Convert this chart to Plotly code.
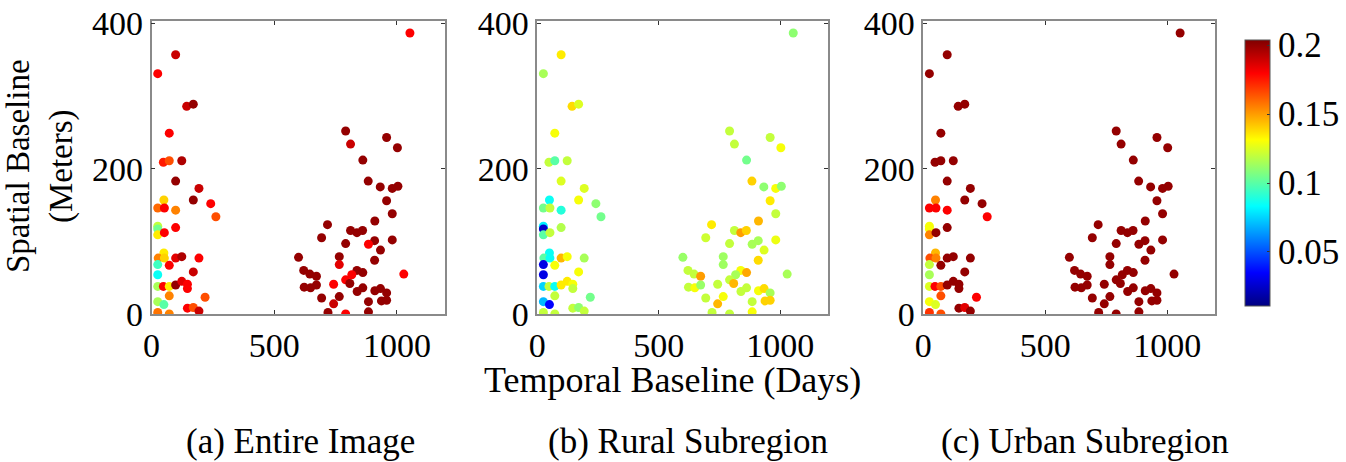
import plotly.graph_objects as go

# Temporal baseline (days) and spatial baseline (meters) of interferometric pairs
temporal_days = [1053, 791, 811, 958, 1002, 861, 883, 932, 981, 1004, 958, 981, 910, 717, 811, 837, 860, 693,
                 791, 909, 884, 981, 933, 599, 765, 765, 909, 620, 645, 672, 837, 861, 816, 791, 622, 648,
                 672, 742, 808, 838, 861, 910, 933, 958, 937, 958, 884, 693, 742, 765, 719, 791, 884, 1028,
                 98, 25, 143, 170, 72, 48, 72, 123, 98, 193, 170, 241, 262, 50, 25, 52, 98, 25, 25, 25,
                 52, 98, 50, 27, 52, 25, 72, 98, 123, 193, 170, 25, 25, 48, 72, 98, 123, 146, 146, 72,
                 218, 25, 50, 25, 72, 146, 170, 193]
spatial_m = [387, 252, 234, 243, 229, 212, 183, 175, 173, 176, 156, 138, 128, 123, 115, 112, 115, 105,
             97, 101, 96, 102, 88, 78, 79, 68, 74, 60, 55, 52, 60, 57, 54, 47, 37, 36,
             40, 41, 42, 31, 36, 32, 35, 29, 18, 19, 17, 22, 14, 24, 2, 0, 3, 55,
             357, 331, 286, 289, 249, 209, 211, 211, 183, 173, 157, 152, 134, 157, 146, 146, 143, 121, 117, 109,
             112, 119, 84, 77, 77, 68, 67, 77, 79, 77, 58, 54, 38, 38, 38, 40, 45, 41, 35, 25,
             23, 17, 13, 2, 0, 8, 9, 4]
coh_entire = [0.18, 0.2, 0.19, 0.2, 0.2, 0.2, 0.2, 0.2, 0.2, 0.2, 0.2, 0.2, 0.2, 0.2, 0.2, 0.2, 0.2, 0.2,
              0.2, 0.2, 0.18, 0.2, 0.2, 0.2, 0.2, 0.185, 0.2, 0.2, 0.2, 0.2, 0.2, 0.2, 0.18, 0.18, 0.2, 0.2,
              0.2, 0.18, 0.2, 0.2, 0.2, 0.2, 0.2, 0.2, 0.2, 0.2, 0.2, 0.2, 0.19, 0.2, 0.2, 0.18, 0.2, 0.18,
              0.19, 0.18, 0.19, 0.2, 0.18, 0.175, 0.165, 0.195, 0.2, 0.19, 0.2, 0.18, 0.165, 0.14, 0.16, 0.18, 0.155, 0.12, 0.105, 0.135,
              0.18, 0.18, 0.135, 0.155, 0.14, 0.095, 0.18, 0.185, 0.195, 0.18, 0.19, 0.085, 0.115, 0.18, 0.135, 0.2, 0.185, 0.18, 0.18, 0.155,
              0.165, 0.115, 0.1, 0.158, 0.155, 0.18, 0.165, 0.19]
coh_rural = [0.11, 0.12, 0.12, 0.12, 0.13, 0.105, 0.14, 0.11, 0.13, 0.11, 0.135, 0.12, 0.145, 0.135, 0.12, 0.15, 0.14, 0.122,
             0.12, 0.115, 0.115, 0.128, 0.125, 0.112, 0.113, 0.113, 0.138, 0.12, 0.12, 0.15, 0.13, 0.148, 0.115, 0.12, 0.12, 0.13,
             0.112, 0.12, 0.145, 0.12, 0.12, 0.13, 0.138, 0.115, 0.14, 0.14, 0.12, 0.12, 0.145, 0.13, 0.12, 0.12, 0.13, 0.115,
             0.135, 0.115, 0.138, 0.125, 0.13, 0.12, 0.1, 0.12, 0.125, 0.125, 0.13, 0.11, 0.105, 0.085, 0.105, 0.12, 0.09, 0.08, 0.025, 0.1,
             0.12, 0.117, 0.085, 0.1, 0.085, 0.03, 0.13, 0.145, 0.13, 0.115, 0.13, 0.03, 0.075, 0.12, 0.085, 0.135, 0.135, 0.13, 0.12, 0.12,
             0.105, 0.07, 0.035, 0.12, 0.12, 0.12, 0.11, 0.12]
coh_urban = [0.2] * 54 + [
             0.2, 0.2, 0.2, 0.2, 0.2, 0.2, 0.2, 0.2, 0.2, 0.2, 0.2, 0.2, 0.18, 0.155, 0.18, 0.18, 0.18, 0.13, 0.13, 0.155,
             0.2, 0.2, 0.145, 0.165, 0.155, 0.12, 0.2, 0.2, 0.2, 0.2, 0.2, 0.115, 0.125, 0.18, 0.165, 0.2, 0.2, 0.2, 0.2, 0.165,
             0.18, 0.13, 0.125, 0.17, 0.165, 0.2, 0.185, 0.2]

panel_titles = ["(a) Entire Image", "(b) Rural Subregion", "(c) Urban Subregion"]
x_ticks = [0, 500, 1000]
y_ticks = [0, 200, 400]
cbar_ticks = [0.05, 0.1, 0.15, 0.2]

# the page's body margin is removed (see post_script), so the figure fills the window
W, H = 1346, 462
FONT = "Liberation Serif"
jet = [[0.0, "rgb(0,0,128)"], [0.125, "rgb(0,0,255)"], [0.375, "rgb(0,255,255)"],
       [0.625, "rgb(255,255,0)"], [0.875, "rgb(255,0,0)"], [1.0, "rgb(128,0,0)"]]


def px(v):
    return v / W


def py(v):
    return 1 - v / H


# panel pixel boxes (window coordinates)
px_boxes = [(151.6, 445), (537.3, 828), (923.3, 1215)]
title_centers = [300, 688, 1085]
top_px, bot_px = 21, 314

fig = go.Figure()
for i, (vals, (l, r)) in enumerate(zip([coh_entire, coh_rural, coh_urban], px_boxes)):
    xa = "x" if i == 0 else f"x{i+1}"
    ya = "y" if i == 0 else f"y{i+1}"
    fig.add_trace(go.Scatter(
        x=temporal_days, y=spatial_m, mode="markers", xaxis=xa, yaxis=ya,
        marker=dict(size=9, color=vals, coloraxis="coloraxis", line=dict(width=0)),
        showlegend=False, hoverinfo="skip"))
    axkw = dict(showgrid=False, zeroline=False, showline=True, linecolor="#8a8a8a", linewidth=1.5,
                mirror="ticks", ticks="inside", ticklen=4, tickcolor="#333", tickwidth=1,
                automargin=False, ticklabeloverflow="allow",
                tickfont=dict(family=FONT, size=34, color="black"))
    fig.layout[("xaxis" if i == 0 else f"xaxis{i+1}")] = go.layout.XAxis(
        domain=[px(l), px(r)], range=[0, 1196], tickvals=x_ticks, anchor=ya, **axkw)
    fig.layout[("yaxis" if i == 0 else f"yaxis{i+1}")] = go.layout.YAxis(
        domain=[py(bot_px), py(top_px)], range=[0, 403.5], tickvals=y_ticks, anchor=xa, **axkw)
    fig.add_annotation(text=panel_titles[i], x=px(title_centers[i]), y=py(441), xref="paper", yref="paper",
                       xanchor="center", yanchor="middle",
                       showarrow=False, font=dict(family=FONT, size=35, color="black"))

fig.update_layout(
    width=W, height=H, margin=dict(l=0, r=0, t=0, b=0, autoexpand=False),
    paper_bgcolor="white", plot_bgcolor="white",
    coloraxis=dict(colorscale=jet, cmin=0.0108, cmax=0.2038,
                   colorbar=dict(x=px(1235), xanchor="left", y=py(173), yanchor="middle",
                                 len=286 / H, lenmode="fraction", thickness=25,
                                 outlinewidth=1, outlinecolor="#555",
                                 tickvals=cbar_ticks, ticktext=["0.05", "0.1", "0.15", "0.2"],
                                 ticks="inside", ticklen=3, tickcolor="#333",
                                 tickfont=dict(family=FONT, size=35, color="black"))),
)
fig.add_annotation(text="Temporal Baseline (Days)", x=px(672), y=py(380), xref="paper", yref="paper",
                   xanchor="center", yanchor="middle",
                   showarrow=False, font=dict(family=FONT, size=36, color="black"))
fig.add_annotation(text="Spatial Baseline<br>(Meters)", x=px(40), y=py(166), xref="paper", yref="paper",
                   xanchor="center", yanchor="middle",
                   showarrow=False, textangle=-90, font=dict(family=FONT, size=33, color="black"))

fig.write_html("out.html", config={"displayModeBar": False},
               post_script="document.body.style.margin='0';")
